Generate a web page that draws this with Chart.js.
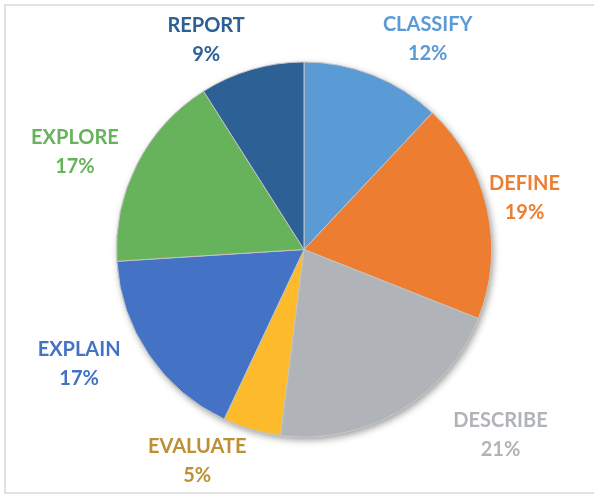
<!DOCTYPE html>
<html>
<head>
<meta charset="utf-8">
<script src="https://cdn.jsdelivr.net/npm/chart.js@4/dist/chart.umd.min.js"></script>
<style>
    html, body { margin: 0; padding: 0; background: #fff; }
    #wrap { position: relative; width: 594px; height: 494px; overflow: hidden; }
    #frame {
        position: absolute; left: 4px; top: 4px; right: -10px; bottom: 0;
        border: 2px solid #e2e2e2; border-right: none;
    }
    canvas { position: absolute; left: 0; top: 0; }
</style>
</head>
<body>
<div id="wrap">
    <div id="frame"></div>
    <canvas id="pie"></canvas>
</div>
<script>
// Data
const categories = ['CLASSIFY', 'DEFINE', 'DESCRIBE', 'EVALUATE', 'EXPLAIN', 'EXPLORE', 'REPORT'];
const shares = [12, 19, 21, 5, 17, 17, 9];

// Colours
const sliceColors = ['#5b9bd5', '#ed7d31', '#b0b3b8', '#fdbb2b', '#4472c4', '#66b35b', '#2d6095'];
const labelColors = ['#5b9bd5', '#ed7d31', '#b0b3b8', '#bd9034', '#4472c4', '#66b35b', '#2d6095'];

// Label placement: angle shift (deg) from slice middle, distance in radii
const labelShiftDeg = [8.9, -0.6, -16.1, 10.6, 7.3, -4, -8.8];
const labelDist = [1.30, 1.208, 1.44, 1.263, 1.345, 1.327, 1.235];

const FONT = 'bold 20px Lato, "Open Sans", sans-serif';
const LINE_GAP = 29;

// soft shadow under the whole pie
const pieShadow = {
    id: 'pieShadow',
    beforeDatasetsDraw(chart) {
        const arc = chart.getDatasetMeta(0).data[0];
        if (!arc) return;
        const ctx = chart.ctx;
        ctx.save();
        ctx.shadowColor = 'rgba(0,0,0,0.38)';
        ctx.shadowBlur = 7;
        ctx.shadowOffsetX = 2;
        ctx.shadowOffsetY = 3;
        ctx.fillStyle = '#ffffff';
        ctx.beginPath();
        ctx.arc(arc.x, arc.y, arc.outerRadius, 0, Math.PI * 2);
        ctx.fill();
        ctx.restore();
    }
};

// outside labels: name + percent
const outsideLabels = {
    id: 'outsideLabels',
    afterDatasetsDraw(chart) {
        const ctx = chart.ctx;
        const arcs = chart.getDatasetMeta(0).data;
        ctx.save();
        ctx.font = FONT;
        ctx.textAlign = 'center';
        ctx.textBaseline = 'middle';
        arcs.forEach((arc, i) => {
            const mid = (arc.startAngle + arc.endAngle) / 2 + labelShiftDeg[i] * Math.PI / 180;
            const d = arc.outerRadius * labelDist[i];
            const cx = arc.x + Math.cos(mid) * d;
            const cy = arc.y + Math.sin(mid) * d;
            ctx.fillStyle = labelColors[i];
            ctx.fillText(categories[i], cx, cy - LINE_GAP / 2);
            ctx.fillText(shares[i] + '%', cx, cy + LINE_GAP / 2);
        });
        ctx.restore();
    }
};

const ctx = document.getElementById('pie').getContext('2d');
new Chart(ctx, {
    type: 'pie',
    data: {
        labels: categories,
        datasets: [{
            data: shares,
            backgroundColor: sliceColors,
            borderColor: '#c4c4c4',
            borderWidth: 1
        }]
    },
    options: {
        responsive: true,
        maintainAspectRatio: false,
        animation: false,
        layout: {
            padding: { left: 116, right: 102, top: 61.5, bottom: 56.5 }
        },
        plugins: {
            legend: { display: false },
            tooltip: { enabled: false }
        }
    },
    plugins: [pieShadow, outsideLabels]
});
</script>
</body>
</html>
